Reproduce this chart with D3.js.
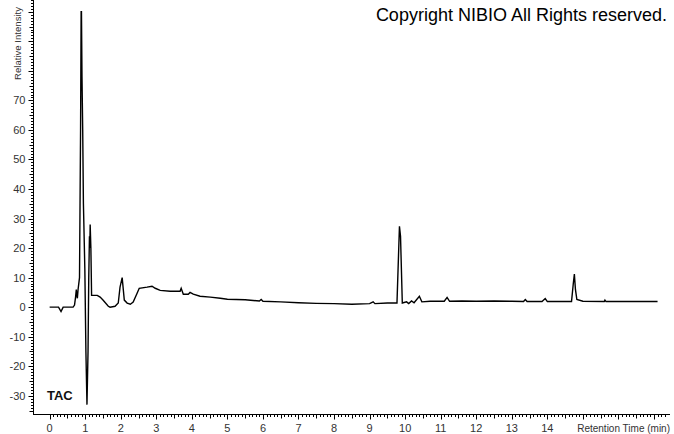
<!DOCTYPE html>
<html>
<head>
<meta charset="utf-8">
<script src="https://cdn.jsdelivr.net/npm/d3@7"></script>
<style>
  body { margin: 0; background: #fff; }
  svg text { font-family: "Liberation Sans", Arial, sans-serif; }
</style>
</head>
<body>
<div id="chart"></div>
<script>
// chromatogram trace (time in min, relative intensity)
let times = [0, 0.25, 0.32, 0.38, 0.66, 0.70, 0.73, 0.75, 0.76, 0.78, 0.80, 0.84, 0.87, 0.886, 0.895, 0.91, 0.93, 0.95, 0.99, 1.02, 1.05, 1.08, 1.10, 1.12, 1.13, 1.14, 1.16, 1.18,
    1.22, 1.34, 1.42, 1.50, 1.65, 1.70, 1.84, 1.93, 1.98, 2.04, 2.10, 2.18, 2.27, 2.35, 2.46, 2.52, 2.74, 2.88, 2.97, 3.11, 3.39, 3.67, 3.70, 3.76, 3.90, 3.95, 4.04, 4.23, 4.52, 4.80,
    5.0, 5.5, 5.9, 5.95, 6.0, 6.5, 7.0, 7.5, 8.0, 8.5, 9.0, 9.1, 9.15, 9.5, 9.77, 9.82, 9.84, 9.87, 9.92, 10.04, 10.1, 10.18, 10.25, 10.4, 10.47, 10.7, 11.1, 11.18, 11.25,
    11.6, 12.0, 12.5, 13.0, 13.33, 13.38, 13.43, 13.85, 13.94, 14.0, 14.68, 14.73, 14.76, 14.79, 14.83, 15.0, 15.6, 15.62, 15.65, 16.0, 16.5, 17.1];
let intensity = [0, 0, -1.5, 0, 0, 0.7, 3.5, 6, 4.5, 3, 6, 10, 60, 100, 100, 78, 60, 35, 13, -15, -33, -15, 10, 24, 20, 28, 20, 4,
    4, 4, 3.4, 2.4, 0.3, 0, 0.3, 1.4, 6.8, 10, 2.4, 1.4, 1, 1.7, 4.7, 6.4, 6.8, 7.1, 6.4, 5.7, 5.4, 5.4, 6.4, 4.4, 4.4, 5, 4.4, 3.7, 3.4, 3,
    2.7, 2.5, 2.1, 2.6, 2, 1.8, 1.5, 1.3, 1.2, 1.0, 1.2, 1.8, 1.2, 1.4, 1.4, 20, 27.4, 24, 1.4, 1.8, 1.2, 2.1, 1.5, 3.7, 1.8, 2.0, 2.0, 3.3, 2.0,
    2.1, 2.0, 2.1, 2.0, 1.9, 2.6, 1.9, 1.9, 2.9, 1.9, 1.9, 8, 11.2, 6, 2.6, 2.0, 1.9, 2.4, 1.9, 1.9, 1.9, 1.9];

let xMajor = d3.range(0, 15);            // labelled x ticks
let yMajor = d3.range(-30, 80, 10);      // labelled y ticks

const width = 674, height = 434;
const svg = d3.select("#chart").append("svg")
    .attr("width", width).attr("height", height);

let x = d3.scaleLinear().domain([-0.44, 17.45]).range([34, 670]);
let y = d3.scaleLinear().domain([-36, 104]).range([413.5, 0]);

let axisY = 414.5;

// x axis
let gx = svg.append("g").attr("transform", `translate(0,${axisY})`);
gx.append("line").attr("x1", 33).attr("x2", 670).attr("stroke", "#000");
let xMinor = d3.range(0, 174).map(i => i / 10).filter(v => x(v) <= 670);
gx.selectAll("line.tk").data(xMinor).join("line")
    .attr("class", "tk")
    .attr("x1", d => Math.round(x(d)) + 0.5).attr("x2", d => Math.round(x(d)) + 0.5)
    .attr("y1", 0)
    .attr("y2", (d, i) => i % 10 == 0 ? 5 : (i % 5 == 0 ? 4 : 2.5))
    .attr("stroke", "#000");
gx.selectAll("text").data(xMajor).join("text")
    .attr("x", d => x(d)).attr("y", 17)
    .attr("text-anchor", "middle")
    .attr("font-size", 11).attr("fill", "#333")
    .text(d => d);
gx.append("text").attr("x", 670).attr("y", 17)
    .attr("text-anchor", "end").attr("font-size", 10).attr("fill", "#333")
    .text("Retention Time (min)");

// y axis
let gy = svg.append("g").attr("transform", "translate(33.5,0)");
gy.append("line").attr("y1", 0).attr("y2", 414).attr("stroke", "#000");
let yMinor = d3.range(-35, 105);
gy.selectAll("line.tk").data(yMinor).join("line")
    .attr("class", "tk")
    .attr("y1", d => Math.round(y(d)) + 0.5).attr("y2", d => Math.round(y(d)) + 0.5)
    .attr("x1", 0)
    .attr("x2", d => d % 10 == 0 ? -5 : (d % 5 == 0 ? -4 : -2.5))
    .attr("stroke", "#000");
gy.selectAll("text").data(yMajor).join("text")
    .attr("x", -8).attr("y", d => y(d) + 4)
    .attr("text-anchor", "end")
    .attr("font-size", 11).attr("fill", "#333")
    .text(d => d);
svg.append("text")
    .attr("transform", "translate(21,80) rotate(-90)")
    .attr("font-size", 9.6).attr("fill", "#333")
    .text("Relative Intensity");

// trace
let pts = times.map((t, i) => [t, intensity[i]]);
svg.append("path")
    .datum(pts)
    .attr("fill", "none").attr("stroke", "#000").attr("stroke-width", 1.4)
    .attr("d", d3.line().x(d => x(d[0])).y(d => y(d[1])));

svg.append("text").attr("x", 47).attr("y", 400)
    .attr("font-size", 13).attr("font-weight", "bold").attr("fill", "#111")
    .text("TAC");

svg.append("text").attr("x", 667).attr("y", 21)
    .attr("text-anchor", "end").attr("font-size", 18).attr("fill", "#000")
    .text("Copyright NIBIO All Rights reserved.");
</script>
</body>
</html>
